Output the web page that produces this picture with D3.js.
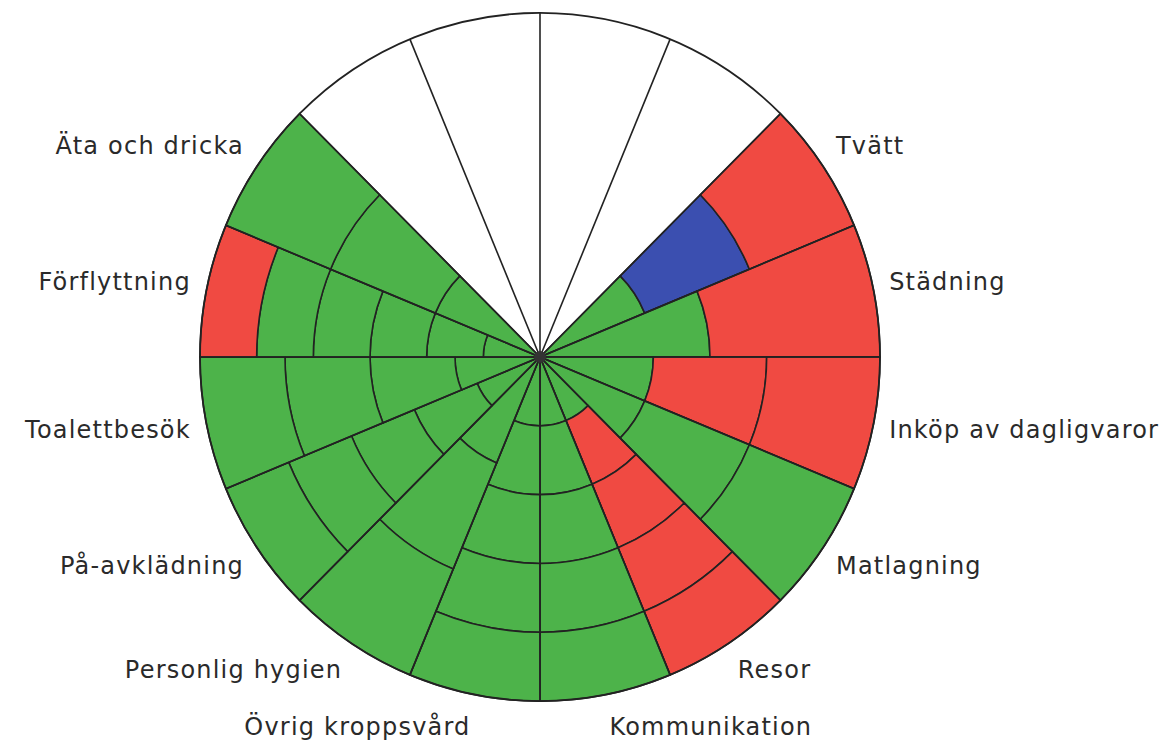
<!DOCTYPE html>
<html>
<head>
<meta charset="utf-8">
<script src="https://cdn.jsdelivr.net/npm/d3@7"></script>
<style>
  body { margin: 0; background: #fff; }
</style>
</head>
<body>
<div id="chart"></div>
<script>
/* DATA */
// activities clockwise, starting at the sector 45deg from the top
const activities = ["Tvätt", "Städning", "Inköp av dagligvaror", "Matlagning",
  "Resor", "Kommunikation", "Övrig kroppsvård", "Personlig hygien",
  "På-avklädning", "Toalettbesök", "Förflyttning", "Äta och dricka"];

// status of each step, inner -> outer
const steps = [
  ["ok", "partial", "help"],             // Tvätt
  ["ok", "help"],                        // Städning
  ["ok", "help", "help"],                // Inköp av dagligvaror
  ["ok", "ok", "ok"],                    // Matlagning
  ["ok", "help", "help", "help", "help"],// Resor
  ["ok", "ok", "ok", "ok", "ok"],        // Kommunikation
  ["ok", "ok", "ok", "ok", "ok"],        // Övrig kroppsvård
  ["ok", "ok", "ok"],                    // Personlig hygien
  ["ok", "ok", "ok", "ok", "ok"],        // På-avklädning
  ["ok", "ok", "ok", "ok"],              // Toalettbesök
  ["ok", "ok", "ok", "ok", "ok", "help"],// Förflyttning
  ["ok", "ok", "ok"]                     // Äta och dricka
];

const statuses = ["ok", "partial", "help"];
const sectorCount = 16;
const firstSector = 2;

/* CONSTANTS */
const width = 1165, height = 745,
      cx = 540, cy = 357,
      radius = 340,
      yStretch = 1.012,
      labelRx = 356, labelRy = 378;

const colorScale = d3.scaleOrdinal()
  .domain(statuses)
  .range(["#4db34a", "#3b4fb0", "#f04a42"]);

const angle = d3.scaleLinear().domain([0, sectorCount]).range([0, 2 * Math.PI]);
const rScale = d3.scaleLinear().domain([0, 1]).range([0, radius]);

/* SVG */
const svg = d3.select("#chart").append("svg")
  .attr("width", width)
  .attr("height", height);

const g = svg.append("g")
  .attr("transform", `translate(${cx},${cy}) scale(1,${yStretch})`);

// flatten to segments
const segments = [];
activities.forEach((name, i) => {
  const n = steps[i].length;
  steps[i].forEach((s, j) => {
    segments.push({
      name, status: s,
      sector: firstSector + i,
      inner: j / n, outer: (j + 1) / n
    });
  });
});

const arc = d3.arc()
  .innerRadius(d => rScale(d.inner))
  .outerRadius(d => rScale(d.outer))
  .startAngle(d => angle(d.sector))
  .endAngle(d => angle(d.sector + 1));

g.selectAll("path.seg")
  .data(segments)
  .join("path")
    .attr("class", "seg")
    .attr("d", arc)
    .attr("fill", d => colorScale(d.status))
    .attr("stroke", "#222")
    .attr("stroke-width", 1.6);

// outer circle
g.append("circle")
  .attr("r", radius)
  .attr("fill", "none")
  .attr("stroke", "#222")
  .attr("stroke-width", 1.8);

// spokes
g.selectAll("line.spoke")
  .data(d3.range(sectorCount))
  .join("line")
    .attr("class", "spoke")
    .attr("x1", 0).attr("y1", 0)
    .attr("x2", d => radius * Math.sin(angle(d)))
    .attr("y2", d => -radius * Math.cos(angle(d)))
    .attr("stroke", "#222")
    .attr("stroke-width", 1.6);

// center dot
g.append("circle")
  .attr("r", 6)
  .attr("fill", "#333");

/* LABELS */
const mid = i => angle(firstSector + i + 0.5);

svg.selectAll("text.label")
  .data(activities)
  .join("text")
    .attr("class", "label")
    .attr("x", (d, i) => cx + labelRx * Math.sin(mid(i)))
    .attr("y", (d, i) => cy - labelRy * Math.cos(mid(i)))
    .attr("text-anchor", (d, i) => mid(i) < Math.PI ? "start" : "end")
    .attr("dominant-baseline", "middle")
    .style("font-family", "'DejaVu Sans', sans-serif")
    .style("font-size", "24px")
    .style("letter-spacing", "1.2px")
    .style("fill", "#2a2a2a")
    .text(d => d);
</script>
</body>
</html>
